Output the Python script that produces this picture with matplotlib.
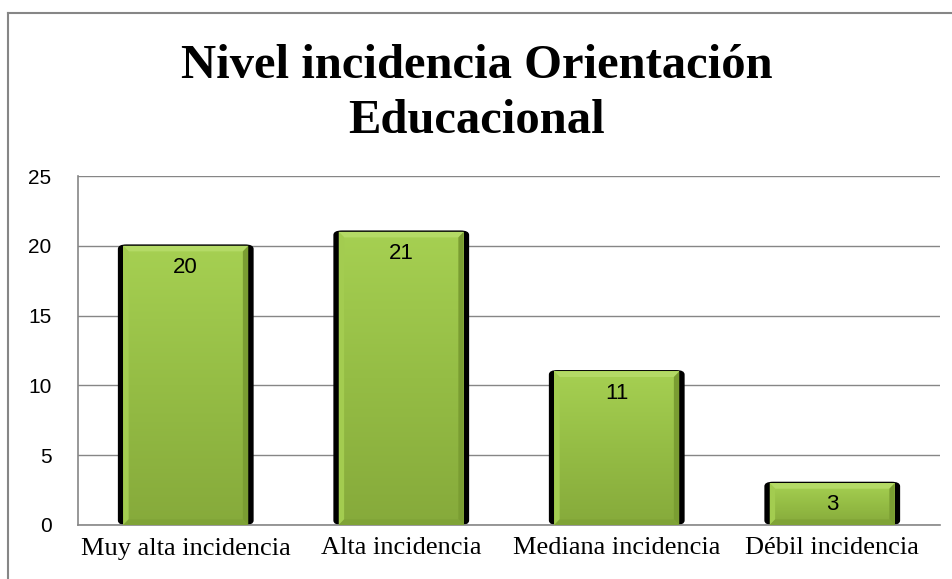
import numpy as np
import matplotlib.pyplot as plt
from matplotlib.patches import FancyBboxPatch, Rectangle
from matplotlib.lines import Line2D
from matplotlib.colors import LinearSegmentedColormap

categories = ["Muy alta incidencia", "Alta incidencia", "Mediana incidencia", "Débil incidencia"]
values = [20, 21, 11, 3]
yticks = [0, 5, 10, 15, 20, 25]
title_lines = ["Nivel incidencia Orientación", "Educacional"]

fig = plt.figure(figsize=(9.53, 5.79), dpi=100)
W, H = 953, 579
ax = fig.add_axes([78 / W, 1 - 525 / H, (940 - 78) / W, (525 - 176) / H])

# outer chart border (clipped at right and bottom like the source)
fig.add_artist(Line2D([8 / W, 8 / W], [0, 1 - 13 / H], color="#868686", lw=1.5))
fig.add_artist(Line2D([8 / W, 1], [1 - 13 / H, 1 - 13 / H], color="#868686", lw=1.5))

ax.set_xlim(-0.5, len(values) - 0.5)
ax.set_ylim(0, 25)
ax.set_yticks(yticks)
ax.set_xticks(range(len(categories)))
ax.set_xticklabels(categories, family="Liberation Serif", fontsize=19)
for lab in ax.get_yticklabels():
    lab.set_family("Liberation Sans")
    lab.set_fontsize(15)
ax.tick_params(axis="y", length=0, pad=19)
ax.tick_params(axis="x", length=0, pad=9)
ax.yaxis.grid(True, color="#868686", lw=1)
ax.set_axisbelow(True)
for s in ["top", "right"]:
    ax.spines[s].set_visible(False)
for s in ["left", "bottom"]:
    ax.spines[s].set_color("#868686")
    ax.spines[s].set_linewidth(1.2)

green = LinearSegmentedColormap.from_list("g", ["#86aa3b", "#95bd45", "#a6d052"])
grad = np.linspace(0, 1, 256).reshape(-1, 1)

for i, v in enumerate(values):
    # black shadow behind the bar
    sh = FancyBboxPatch((i - 0.315, 0), 0.63, v + 0.1,
                        boxstyle="round,pad=0,rounding_size=0.04",
                        mutation_aspect=8, fc="black", ec="none", zorder=2)
    ax.add_patch(sh)
    # green bar with vertical gradient (lighter at the top)
    x0, x1 = i - 0.29, i + 0.29
    rect = Rectangle((x0, 0), x1 - x0, v, fc="none", ec="none", zorder=3)
    ax.add_patch(rect)
    im = ax.imshow(grad, extent=(x0, x1, 0, v), origin="lower", cmap=green,
                   aspect="auto", zorder=3)
    im.set_clip_path(rect)
    # bevel edges
    bt = min(0.4, v * 0.15)
    ax.fill([x0, x1, x1 - 0.025, x0 + 0.025], [v, v, v - bt, v - bt],
            color="#b4da66", lw=0, zorder=4)
    ax.fill([x0, x0 + 0.025, x0 + 0.025, x0], [v, v - bt, bt, 0],
            color="#a3cc50", lw=0, zorder=4)
    ax.fill([x1, x1 - 0.025, x1 - 0.025, x1], [v, v - bt, bt, 0],
            color="#7a9d32", lw=0, zorder=4)
    ax.fill([x0, x1, x1 - 0.025, x0 + 0.025], [0, 0, bt, bt],
            color="#7fa336", lw=0, zorder=4)
    ax.text(i, v - 1.55, str(v), ha="center", va="center",
            family="Liberation Sans", fontsize=16, zorder=5)

ax.set_ylim(0, 25)
ax.set_xlim(-0.5, len(values) - 0.5)

fig.text(0.5, 1 - 78 / H, title_lines[0], ha="center", va="baseline",
         family="Liberation Serif", fontweight="bold", fontsize=35)
fig.text(0.5, 1 - 133 / H, title_lines[1], ha="center", va="baseline",
         family="Liberation Serif", fontweight="bold", fontsize=35)

fig.savefig("out.png", dpi=100)
